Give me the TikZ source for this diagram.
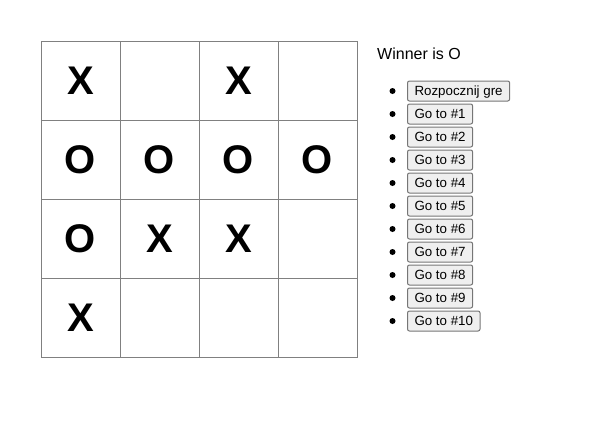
\documentclass[tikz,border=0pt]{standalone}
\usepackage{fontspec}
\setmainfont{Liberation Sans}
\usepackage{xcolor}
\usetikzlibrary{positioning}

\definecolor{gitter}{RGB}{128,128,128}
\definecolor{knopfrand}{RGB}{118,118,118}
\definecolor{knopffeld}{RGB}{239,239,239}

\tikzset{
  feld/.style={draw=gitter, line width=1pt, minimum size=79pt, inner sep=0pt,
    font=\fontsize{40}{48}\selectfont\bfseries},
  knopf/.style={draw=knopfrand, fill=knopffeld, rounded corners=2pt, line width=1pt,
    minimum height=20pt, inner xsep=7pt, inner ysep=0pt, text height=9.5pt,
    text depth=0pt, anchor=west, font=\fontsize{13.33}{16}\selectfont},
  punkt/.style={circle, fill=black, minimum size=6pt, inner sep=0pt},
}

\begin{document}
\begin{tikzpicture}[x=1pt, y=-1pt]
\useasboundingbox (0,0) rectangle (611,442);

% Spielfeld, Zeile 1
\node[feld] (f11) at (80.5,80.5) {X};
\node[feld] (f12) at (159.5,80.5) {};
\node[feld] (f13) at (238.5,80.5) {X};
\node[feld] (f14) at (317.5,80.5) {};

% Zeile 2
\node[feld] (f21) at (80.5,159.5) {O};
\node[feld] (f22) at (159.5,159.5) {O};
\node[feld] (f23) at (238.5,159.5) {O};
\node[feld] (f24) at (317.5,159.5) {O};

% Zeile 3
\node[feld] (f31) at (80.5,238.5) {O};
\node[feld] (f32) at (159.5,238.5) {X};
\node[feld] (f33) at (238.5,238.5) {X};
\node[feld] (f34) at (317.5,238.5) {};

% Zeile 4
\node[feld] (f41) at (80.5,317.5) {X};
\node[feld] (f42) at (159.5,317.5) {};
\node[feld] (f43) at (238.5,317.5) {};
\node[feld] (f44) at (317.5,317.5) {};

% Status
\node[anchor=base west, inner sep=0pt, font=\fontsize{16}{19}\selectfont] (sieger) at (377,59.3) {Winner is O};

% Liste der Züge
\node[knopf] (zug0) at (407,91) {Rozpocznij gre};
\node[knopf] (zug1) at (407,114) {Go to \#1};
\node[knopf] (zug2) at (407,137) {Go to \#2};
\node[knopf] (zug3) at (407,160) {Go to \#3};
\node[knopf] (zug4) at (407,183) {Go to \#4};
\node[knopf] (zug5) at (407,206) {Go to \#5};
\node[knopf] (zug6) at (407,229) {Go to \#6};
\node[knopf] (zug7) at (407,252) {Go to \#7};
\node[knopf] (zug8) at (407,275) {Go to \#8};
\node[knopf] (zug9) at (407,298) {Go to \#9};
\node[knopf] (zug10) at (407,321) {Go to \#10};

% Aufzählungspunkte
\node[punkt] (p0) at (392.5,91) {};
\node[punkt] (p1) at (392.5,114) {};
\node[punkt] (p2) at (392.5,137) {};
\node[punkt] (p3) at (392.5,160) {};
\node[punkt] (p4) at (392.5,183) {};
\node[punkt] (p5) at (392.5,206) {};
\node[punkt] (p6) at (392.5,229) {};
\node[punkt] (p7) at (392.5,252) {};
\node[punkt] (p8) at (392.5,275) {};
\node[punkt] (p9) at (392.5,298) {};
\node[punkt] (p10) at (392.5,321) {};

\end{tikzpicture}
\end{document}
